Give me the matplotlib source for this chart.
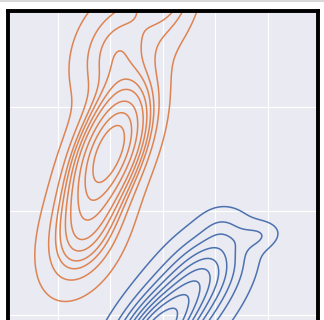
import numpy as np
import matplotlib
matplotlib.use("Agg")
import matplotlib.pyplot as plt
import seaborn as sns

# gaussian components (data units)
# columns: centre x, centre y, sd x, sd y, correlation, weight
orange_mx = [1.99, 2.09, 1.52, 3.04]
orange_my = [1.59, 2.55, 0.82, 3.37]
orange_sx = [0.46, 0.50, 0.48, 0.38]
orange_sy = [0.38, 0.34, 0.35, 0.385]
orange_rho = [0.54, 0.30, 0.40, 0.10]
orange_w = [1.00, 0.25, 0.35, 0.40]

blue_mx = [2.75, 3.42, 3.90, 4.12, 4.81]
blue_my = [-0.24, 0.14, 0.48, 0.84, 0.76]
blue_sx = [0.51, 0.57, 0.50, 0.27, 0.27]
blue_sy = [0.29, 0.32, 0.27, 0.135, 0.087]
blue_rho = [0.50, 0.42, 0.35, 0.00, 0.20]
blue_w = [1.00, 0.70, 0.35, 0.025, 0.03]

xticks = [1, 2, 3, 4, 5]
yticks = [0, 1, 2]


def density(X, Y, mx, my, sx, sy, rho, w):
    Z = np.zeros_like(X)
    for i in range(len(mx)):
        dx = (X - mx[i]) / sx[i]
        dy = (Y - my[i]) / sy[i]
        q = (dx**2 - 2 * rho[i] * dx * dy + dy**2) / (1 - rho[i]**2)
        norm = 2 * np.pi * sx[i] * sy[i] * np.sqrt(1 - rho[i]**2)
        Z += w[i] * np.exp(-0.5 * q) / norm
    return Z / sum(w)


def iso_levels(Z, n=10, thresh=0.05):
    # same idea as seaborn: density levels holding a given share of mass
    props = np.linspace(thresh, 1, n)
    vals = np.sort(Z.ravel())[::-1]
    cum = np.cumsum(vals) / vals.sum()
    idx = np.searchsorted(cum, 1 - props)
    return np.unique(np.take(vals, idx, mode="clip"))


sns.set_style("darkgrid")

fig = plt.figure(figsize=(3.24, 3.2), dpi=100)
ax = fig.add_axes([0.0262, -0.147, 0.9568, 1.1126])

gx = np.linspace(-2, 8, 600)
gy = np.linspace(-3, 5, 600)
X, Y = np.meshgrid(gx, gy)

Zo = density(X, Y, orange_mx, orange_my, orange_sx, orange_sy, orange_rho, orange_w)
Zb = density(X, Y, blue_mx, blue_my, blue_sx, blue_sy, blue_rho, blue_w)

ax.contour(X, Y, Zb, levels=iso_levels(Zb), colors="#4C72B0", linewidths=1.1)
ax.contour(X, Y, Zo, levels=iso_levels(Zo), colors="#DD8452", linewidths=1.1)

ax.set_xlim(0.057, 5.962)
ax.set_ylim(-0.5, 2.923)
ax.set_xticks(xticks)
ax.set_yticks(yticks)
ax.set_xticklabels([])
ax.set_yticklabels([])
ax.tick_params(length=0)
for s in ax.spines.values():
    s.set_visible(True)
    s.set_color("black")
    s.set_linewidth(2.8)

fig.add_artist(plt.Line2D([0, 1], [0.997, 0.997], color="#d8d8d8", lw=1.5))

fig.savefig("out.png", dpi=100)
